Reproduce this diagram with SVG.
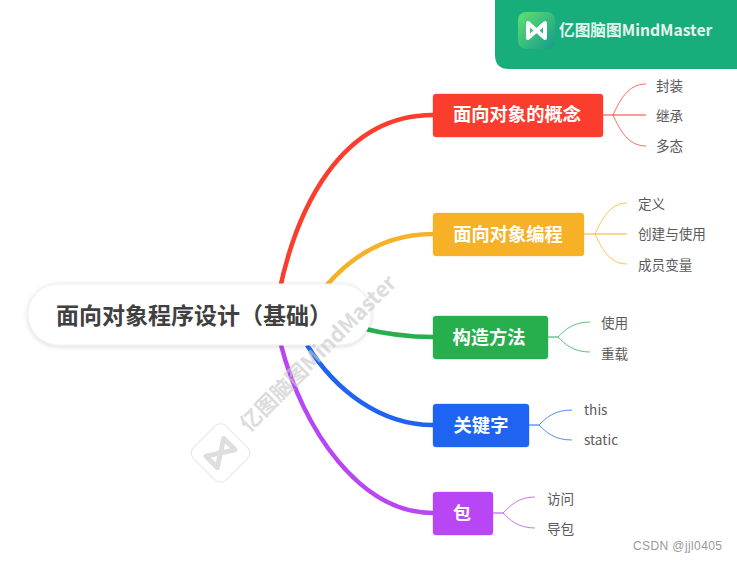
<svg xmlns="http://www.w3.org/2000/svg" width="737" height="562" viewBox="0 0 737 562">
<defs>
<style>
text{font-family:"Noto Sans CJK SC","Noto Sans",sans-serif}
.n{font-size:18.3px;font-weight:700;fill:#fff;text-anchor:middle}
.l{font-size:13.6px;fill:#5a5a5a}
.m{fill:none;stroke-width:4.5}
.s{fill:none;stroke-width:1}
.st{fill:none;stroke-width:2;opacity:.5}
.b{stroke-opacity:.35;stroke-width:1}
</style>
<linearGradient id="g" x1="0" y1="0" x2="1" y2="1"><stop offset="0" stop-color="#5fe070"/><stop offset="1" stop-color="#159a8c"/></linearGradient>
<filter id="sh" x="-10%" y="-30%" width="120%" height="160%"><feDropShadow dx="0" dy="1" stdDeviation="2.5" flood-color="#000" flood-opacity=".16"/></filter>
</defs>
<rect width="737" height="562" fill="#fff"/>
<g id="connectors">
<path class="m" stroke="#FB3D2E" stroke-width="5" d="M279 293C296 210 340 115 433 115"/>
<path class="m" stroke="#F6B127" d="M326 286C350 258 385 234 433 234"/>
<path class="m" stroke="#27AE4D" d="M361 328C385 334 410 337 433 337"/>
<path class="m" stroke="#1F63F2" d="M307 345C335 390 380 425 433 425"/>
<path class="m" stroke="#B946F5" d="M281 345C303 430 360 513 433 513"/>
<g stroke="#FB3D2E">
<path class="st" d="M603 115H646"/>
<path class="s" stroke-opacity=".75" d="M613 115C620 100 628 84 646 84M613 115C620 130 628 146 646 146"/>
</g>
<g stroke="#F6B127">
<path class="st" d="M584 234H627"/>
<path class="s" stroke-opacity=".75" d="M595 234C602 219 610 203 627 203M595 234C602 249 610 264 627 264"/>
</g>
<g stroke="#27AE4D">
<path class="st" d="M548 337H558"/>
<path class="s" stroke-opacity=".75" d="M558 337C565 330 573 322 590 322M558 337C565 344 573 352 590 352"/>
</g>
<g stroke="#1F63F2">
<path class="st" d="M529 425H539"/>
<path class="s" stroke-opacity=".75" d="M539 425C546 418 554 410 572 410M539 425C546 432 554 440 572 440"/>
</g>
<g stroke="#B946F5">
<path class="st" d="M493 513H503"/>
<path class="s" stroke-opacity=".75" d="M503 513C510 506 518 497 535 497M503 513C510 520 518 528 535 528"/>
</g>
</g>
<g id="root">
<rect x="28" y="284" width="343" height="61" rx="30.500" fill="#fff" stroke="#f0f0f0" filter="url(#sh)"/>
<text x="56" y="324" font-size="23" font-weight="700" fill="#404040">面向对象程序设计（基础）</text>
</g>
<g id="n1">
<rect x="433" y="94" width="170" height="43" rx="3" fill="#FB3D2E" stroke="#FB3D2E" class="b"/>
<text class="n" x="517" y="121">面向对象的概念</text>
<text class="l" x="656" y="91">封装</text><text class="l" x="656" y="121">继承</text><text class="l" x="656" y="151">多态</text>
</g>
<g id="n2">
<rect x="433" y="213" width="151" height="43" rx="3" fill="#F6B127" stroke="#F6B127" class="b"/>
<text class="n" x="508" y="241">面向对象编程</text>
<text class="l" x="638" y="209">定义</text><text class="l" x="638" y="239">创建与使用</text><text class="l" x="638" y="270">成员变量</text>
</g>
<g id="n3">
<rect x="433" y="316" width="115" height="43" rx="3" fill="#27AE4D" stroke="#27AE4D" class="b"/>
<text class="n" x="489" y="344">构造方法</text>
<text class="l" x="601" y="328">使用</text><text class="l" x="601" y="359">重载</text>
</g>
<g id="n4">
<rect x="433" y="404" width="96" height="43" rx="3" fill="#1F63F2" stroke="#1F63F2" class="b"/>
<text class="n" x="481" y="432">关键字</text>
<text class="l" x="584" y="415">this</text><text class="l" x="584" y="445">static</text>
</g>
<g id="n5">
<rect x="433" y="492" width="60" height="43" rx="3" fill="#B946F5" stroke="#B946F5" class="b"/>
<text class="n" x="462" y="520">包</text>
<text class="l" x="547" y="504">访问</text><text class="l" x="547" y="534">导包</text>
</g>
<g id="watermark">
<rect x="197.500" y="430" width="46" height="46" rx="8" transform="rotate(45 220.500 453)" fill="#fff" fill-opacity=".6" stroke="#e6e6e6"/>
<path d="M208 445V461L233 445V461Z" transform="rotate(-45 220.500 453)" fill="none" stroke="#dedede" stroke-width="5" stroke-linejoin="round"/>
<text transform="translate(249 433) rotate(-45)" font-size="21.500" font-weight="700" fill="#c8c8c8" fill-opacity=".65">亿图脑图MindMaster</text>
</g>
<g id="brand">
<path d="M495 0H737V69H509Q495 69 495 55Z" fill="#18AE7C"/>
<rect x="518" y="12" width="37" height="37" rx="8" fill="url(#g)"/>
<path d="M528 23V38L545 23V38Z" fill="none" stroke="#fff" stroke-width="4" stroke-linejoin="round"/>
<text x="559" y="35.500" font-size="15.700" font-weight="700" fill="#fff" fill-opacity=".9">亿图脑图MindMaster</text>
</g>
<text id="credit" x="633" y="550" font-size="12" letter-spacing=".4" fill="#999" style="font-family:'Liberation Sans',sans-serif">CSDN @jjl0405</text>
</svg>
